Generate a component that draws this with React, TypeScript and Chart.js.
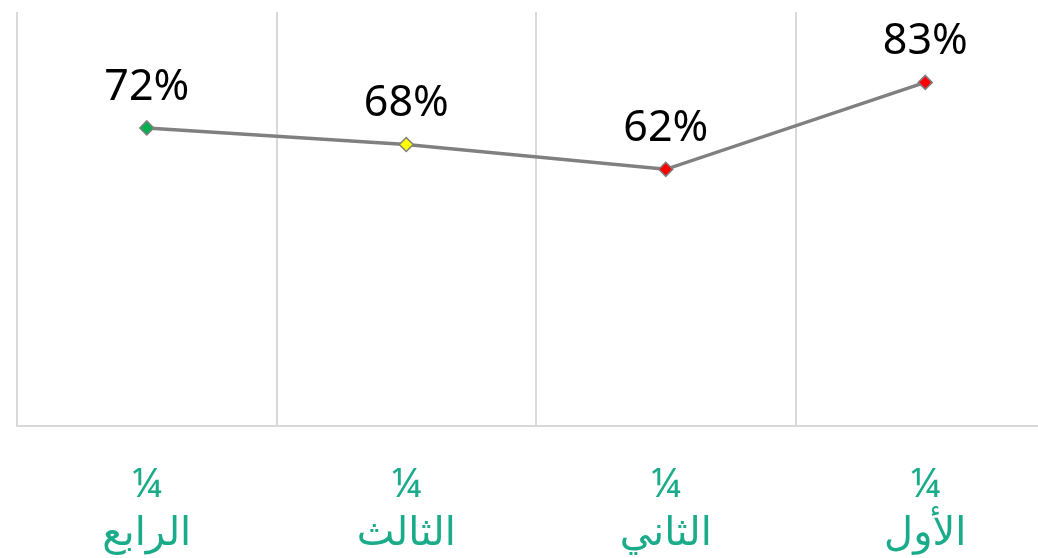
import React, { useEffect, useRef } from "react";
import { Chart, registerables } from "chart.js";

Chart.register(...registerables);

const categories: string[][] = [
  ["¼", "الرابع"],
  ["¼", "الثالث"],
  ["¼", "الثاني"],
  ["¼", "الأول"],
];
const values: number[] = [72, 68, 62, 83];
const pointColors: string[] = ["#00b050", "#ffff00", "#ff0000", "#ff0000"];
const yMin = 0;
const yMax = 100;

const labelPlugin = {
  id: "valueLabels",
  afterDatasetsDraw(chart: any) {
    const ctx = chart.ctx;
    const meta = chart.getDatasetMeta(0);
    ctx.save();
    ctx.font = '43px "Noto Sans", "DejaVu Sans", sans-serif';
    ctx.fillStyle = "#000000";
    ctx.textAlign = "center";
    ctx.textBaseline = "alphabetic";
    meta.data.forEach((pt: any, i: number) => {
      ctx.fillText(values[i] + "%", pt.x, pt.y - 28);
    });
    ctx.restore();
  },
};

export default function App() {
  const ref = useRef<HTMLCanvasElement>(null);
  useEffect(() => {
    if (!ref.current) return;
    const chart = new Chart(ref.current, {
      type: "line",
      data: {
        labels: categories,
        datasets: [
          {
            data: values,
            borderColor: "#808080",
            borderWidth: 3.5,
            pointStyle: "rectRot",
            pointRadius: 7,
            pointBorderColor: "#7f7f7f",
            pointBorderWidth: 1.5,
            pointBackgroundColor: pointColors,
            tension: 0,
          },
        ],
      },
      options: {
        animation: false,
        responsive: false,
        devicePixelRatio: 1,
        layout: { padding: { left: 17, right: 15, top: 12, bottom: 0 } },
        plugins: { legend: { display: false }, tooltip: { enabled: false } },
        scales: {
          x: {
            offset: true,
            grid: {
              offset: true,
              color: "#d9d9d9",
              lineWidth: 2,
              drawTicks: false,
            },
            border: { color: "#d9d9d9", width: 2 },
            ticks: {
              color: "#1aab8a",
              padding: 36,
              maxRotation: 0,
              font: { size: 40, family: '"Noto Sans", "DejaVu Sans", sans-serif', lineHeight: 1.2 },
            },
          },
          y: {
            display: false,
            min: yMin,
            max: yMax,
          },
        },
      },
      plugins: [labelPlugin],
    });
    return () => chart.destroy();
  }, []);
  return (
    <div style={{ position: "fixed", left: 0, top: 0, width: 1038, height: 558, overflow: "hidden", background: "#fff" }}>
      <canvas ref={ref} width={1070} height={594} style={{ display: "block", width: 1070, height: 594 }} />
    </div>
  );
}
